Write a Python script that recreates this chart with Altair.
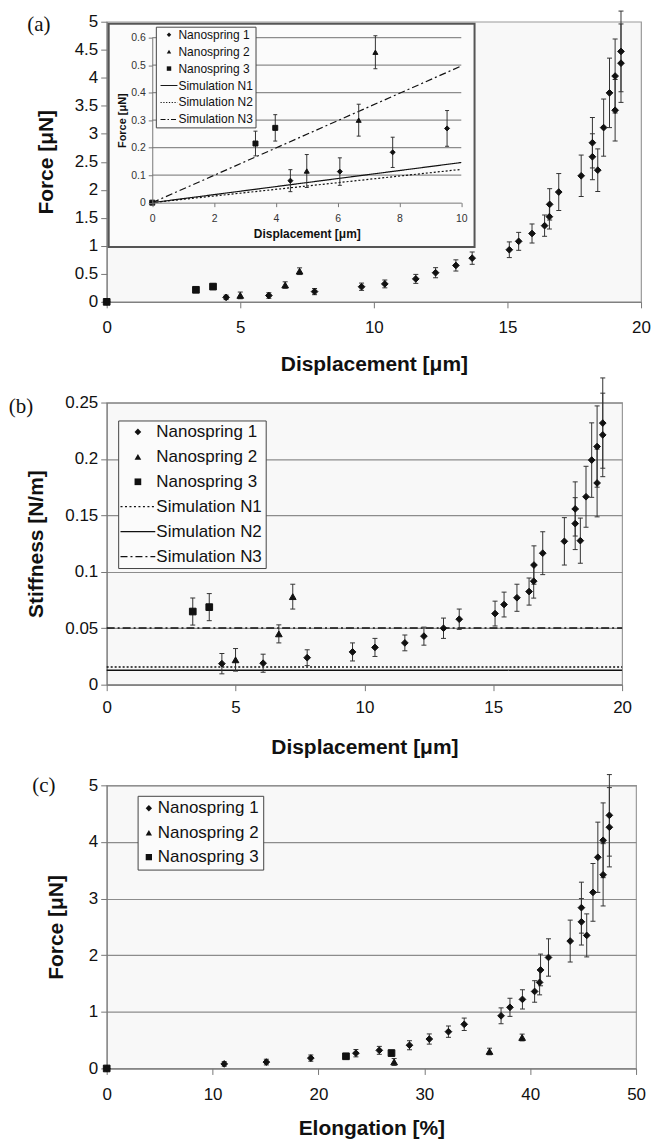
import altair as alt
import pandas as pd

FONT = "Liberation Sans"
SERIF = "Liberation Serif"
INK = "#111111"
BAR = "#333333"
GRID = "#8c8c8c"
AXC = "#777777"

SERIES = ["Nanospring 1", "Nanospring 2", "Nanospring 3"]
SIMS = ["Simulation N1", "Simulation N2", "Simulation N3"]

# ---------------- data: force (panels a and c) ----------------
n1_disp = [0, 4.47, 6.07, 7.78, 9.54, 10.41, 11.57, 12.31, 13.07, 13.68, 15.07, 15.42, 15.92, 16.39,
           16.57, 16.58, 16.92, 17.76, 18.18, 18.18, 18.38, 18.6, 18.82, 19.03, 19.03, 19.25, 19.25]
n1_elong = [0, 11.1, 15.08, 19.28, 23.54, 25.75, 28.6, 30.47, 32.28, 33.77, 37.25, 38.09, 39.27, 40.42,
            40.89, 40.98, 41.73, 43.78, 44.84, 44.84, 45.34, 45.93, 46.39, 46.89, 46.89, 47.48, 47.48]
n1_force = [0, 0.08, 0.113, 0.183, 0.27, 0.32, 0.41, 0.52, 0.65, 0.78, 0.93, 1.08, 1.22, 1.36,
            1.52, 1.74, 1.96, 2.25, 2.59, 2.84, 2.35, 3.11, 3.73, 3.42, 4.03, 4.26, 4.47]
n1_force_err = [0, 0.04, 0.05, 0.055, 0.065, 0.07, 0.08, 0.09, 0.1, 0.11, 0.14, 0.16, 0.17, 0.19,
                0.22, 0.28, 0.33, 0.37, 0.41, 0.45, 0.38, 0.51, 0.62, 0.55, 0.66, 0.7, 0.72]

n2_disp = [5.0, 6.68, 7.22]
n2_elong = [27.15, 36.16, 39.24]
n2_force = [0.115, 0.30, 0.547]
n2_force_err = [0.06, 0.058, 0.06]

n3_disp = [0, 3.34, 3.98]
n3_elong = [0, 22.6, 26.9]
n3_force = [0, 0.215, 0.272]
n3_force_err = [0, 0.045, 0.048]

# simulations in the inset of panel (a)
sim_a_x = [0, 10]
sim_a_n1 = [0, 0.146]
sim_a_n2 = [0, 0.121]
sim_a_n3 = [0, 0.497]

# ---------------- data: stiffness (panel b) ----------------
n1_stiff_disp = n1_disp[1:]
n1_stiff = [0.0186, 0.019, 0.0239, 0.029, 0.033, 0.037, 0.043, 0.050, 0.058, 0.063, 0.071, 0.077, 0.0825,
            0.0917, 0.106, 0.1165, 0.127, 0.1427, 0.1557, 0.1276, 0.1665, 0.199, 0.1787, 0.211, 0.2213, 0.2318]
n1_stiff_err = [0.009, 0.008, 0.007, 0.008, 0.008, 0.007, 0.008, 0.009, 0.009, 0.011, 0.011, 0.012, 0.012,
                0.015, 0.017, 0.019, 0.021, 0.023, 0.024, 0.02, 0.027, 0.033, 0.03, 0.036, 0.037, 0.04]
n2_stiff = [0.022, 0.045, 0.078]
n2_stiff_err = [0.01, 0.008, 0.011]
n3_stiff_disp = [3.34, 3.98]
n3_stiff = [0.0648, 0.0687]
n3_stiff_err = [0.012, 0.012]

sim_b_x = [0, 20]
sim_b_n1 = 0.0157
sim_b_n2 = 0.0127
sim_b_n3 = 0.0503

# tick values
a_xticks = [0, 5, 10, 15, 20]
a_yticks = [0, 0.5, 1, 1.5, 2, 2.5, 3, 3.5, 4, 4.5, 5]
inset_xticks = [0, 2, 4, 6, 8, 10]
inset_yticks = [0, 0.1, 0.2, 0.3, 0.4, 0.5, 0.6]
b_yticks = [0, 0.05, 0.1, 0.15, 0.2, 0.25]
c_xticks = [0, 10, 20, 30, 40, 50]
c_yticks = [0, 1, 2, 3, 4, 5]


def points_frame(xs_list, ys_list, es_list):
    rows = []
    for name, xs, ys, es in zip(SERIES, xs_list, ys_list, es_list):
        for x, y, e in zip(xs, ys, es):
            rows.append({"series": name, "x": x, "y": y, "lo": y - e, "hi": y + e})
    return pd.DataFrame(rows)


def lines_frame(xs, ys_list):
    rows = []
    for name, ys in zip(SIMS, ys_list):
        for x, y in zip(xs, ys):
            rows.append({"series": name, "x": x, "y": y})
    return pd.DataFrame(rows)


def dash_path(half, r, pattern, thick=1.2):
    """Legend glyph: a horizontal (optionally dashed) line built from thin filled rectangles."""
    t = thick / 2 / r

    def seg(a, b):
        return f"M{a:.2f},{-t:.2f}H{b:.2f}V{t:.2f}H{a:.2f}Z"

    if not pattern:
        return seg(-half, half)
    segs, x, i, on = [], -half, 0, True
    while x < half - 1e-6:
        step = pattern[i % len(pattern)] / r
        if on:
            segs.append(seg(x, min(x + step, half)))
        x += step
        on = not on
        i += 1
    return "".join(segs)


def make_legend(lx, ly, size, pad, sym_off, lab_off, fs, row_pad):
    return alt.Legend(title=None, orient="none", legendX=lx, legendY=ly, symbolSize=size, padding=pad,
                      symbolOffset=sym_off, labelOffset=lab_off, labelFontSize=fs, labelFont=FONT,
                      labelColor=INK, rowPadding=row_pad, strokeColor="#444444", fillColor="#fbfbfb",
                      symbolStrokeColor=INK, symbolFillColor=INK, symbolStrokeWidth=0, labelLimit=400)


def x_axis(values, title, lp, tp, fs=17, tfs=21, **kw):
    return alt.Axis(values=values, title=title, grid=False, tickSize=kw.pop("tickSize", 6), labelPadding=lp,
                    titlePadding=tp, labelFontSize=fs, titleFontSize=tfs, titleFontWeight="bold",
                    labelFont=FONT, titleFont=FONT, domainColor=AXC, tickColor=AXC, labelColor=INK,
                    titleColor=INK, labelFlush=False, labelOverlap=False, **kw)


def y_axis(values, title, fmt, tp, grid=False, fs=17, tfs=21, **kw):
    return alt.Axis(values=values, title=title, format=fmt, grid=grid, gridColor=GRID, gridWidth=1.2,
                    tickSize=kw.pop("tickSize", 6), labelPadding=kw.pop("labelPadding", 3), titlePadding=tp,
                    labelFontSize=fs, titleFontSize=tfs, titleFontWeight="bold", labelFont=FONT,
                    titleFont=FONT, domainColor=AXC, tickColor=AXC, labelColor=INK, titleColor=INK,
                    labelOverlap=False, **kw)


def data_layers(df, xs, ys, shape_scale, legend, size, cap):
    X = alt.X("x:Q", scale=xs[0], axis=xs[1])
    base = alt.Chart(df)
    bars = base.mark_rule(color=BAR, strokeWidth=1).encode(
        x=X, y=alt.Y("lo:Q", scale=ys[0], axis=ys[1]), y2="hi:Q")
    caps = base.transform_fold(["lo", "hi"], as_=["end", "v"]).mark_tick(
        orient="horizontal", size=cap, thickness=1, color=BAR, opacity=1).encode(
        x=X, y=alt.Y("v:Q", scale=ys[0], axis=ys[1]))
    pts = base.mark_point(filled=True, fill=INK, stroke=INK, strokeWidth=1, size=size, opacity=1).encode(
        x=X, y=alt.Y("y:Q", scale=ys[0], axis=ys[1]),
        shape=alt.Shape("series:N", scale=shape_scale, legend=legend))
    return [bars, caps, pts]


def sim_layer(df, xs, ys, dashes, width=1.2):
    return alt.Chart(df).mark_line(color=INK, strokeWidth=width).encode(
        x=alt.X("x:Q", scale=xs[0], axis=xs[1]),
        y=alt.Y("y:Q", scale=ys[0], axis=ys[1]),
        strokeDash=alt.StrokeDash("series:N", scale=alt.Scale(domain=SIMS, range=dashes), legend=None))


def panel_label(text, px, py):
    return alt.Chart(pd.DataFrame({"t": [text]})).mark_text(
        font=SERIF, fontSize=21, color=INK, align="center", baseline="middle").encode(
        text="t:N", x=alt.value(px), y=alt.value(py))


SHAPES = ["diamond", "triangle-up", "square"]

# ================= panel (a) =================
df_a = points_frame([n1_disp, n2_disp, n3_disp], [n1_force, n2_force, n3_force],
                    [n1_force_err, n2_force_err, n3_force_err])
sim_a = lines_frame(sim_a_x, [sim_a_n1, sim_a_n2, sim_a_n3])

r_a = (20 ** 0.5) / 2
shape_a = alt.Scale(domain=SERIES + SIMS, range=SHAPES + [
    dash_path(3.8, r_a, [], 1.0), dash_path(3.8, r_a, [1.2, 1.6], 1.0),
    dash_path(3.8, r_a, [5, 2, 1.5, 2], 1.0)])
legend_a = make_legend(49.3, 5, 20, 2, 5.2, 3.5, 12, 5)

xs_a = (alt.Scale(domain=[0, 20]), x_axis(a_xticks, "Displacement [μm]", 11.7, 17.7))
ys_a = (alt.Scale(domain=[0, 5]), y_axis(a_yticks, "Force [μN]", ".1~f", 17.5))
main_a = alt.layer(*data_layers(df_a, xs_a, ys_a, shape_a, legend_a, 45, 5),
                   panel_label("(a)", -68, 3))

xs_i = (alt.Scale(domain=[0, 10], range=[45.7, 355.7]),
        alt.Axis(orient="bottom", offset=-99.5, values=inset_xticks, title="Displacement [μm]", grid=False,
                 tickSize=4, labelPadding=6.5, titlePadding=4.5, labelFontSize=10.5, titleFontSize=12,
                 titleFontWeight="bold", labelFont=FONT, titleFont=FONT, domainColor=AXC, tickColor=AXC,
                 labelColor="#333333", titleColor=INK, labelFlush=False, labelOverlap=False, zindex=2))
ys_i = (alt.Scale(domain=[0, 0.6], range=[181.5, 16]),
        alt.Axis(orient="left", offset=-45.7, values=inset_yticks, title="Force [μN]", format=".1~f",
                 grid=False, tickSize=4, labelPadding=3, titlePadding=3.2, labelFontSize=10.5,
                 titleFontSize=11, titleFontWeight="bold", labelFont=FONT, titleFont=FONT, domainColor=AXC,
                 tickColor=AXC, labelColor="#333333", titleColor=INK, labelOverlap=False, zindex=2))

inset_box = alt.Chart(pd.DataFrame({"k": [0]})).mark_rect(
    fill="#fbfbfb", stroke="#555555", strokeWidth=2).encode(
    x=alt.value(2), x2=alt.value(369), y=alt.value(2), y2=alt.value(226))
inset_grid = alt.Chart(pd.DataFrame({"g": inset_yticks[1:]})).mark_rule(color=GRID, strokeWidth=1.2).encode(
    x=alt.value(45.7), x2=alt.value(355.7),
    y=alt.Y("g:Q", scale=ys_i[0], axis=ys_i[1]))
df_inset = df_a[df_a["x"] <= 10]
inset = alt.layer(inset_box, inset_grid,
                  sim_layer(sim_a, xs_i, ys_i, [[1, 0], [2, 2], [7, 3, 2, 3]]),
                  *data_layers(df_inset, xs_i, ys_i, shape_a, legend_a, 25, 4))

panel_a = alt.layer(main_a, inset).resolve_scale(x="independent", y="independent").properties(
    width=536, height=281)

# ================= panel (b) =================
df_b = points_frame([n1_stiff_disp, n2_disp, n3_stiff_disp], [n1_stiff, n2_stiff, n3_stiff],
                    [n1_stiff_err, n2_stiff_err, n3_stiff_err])
sim_b = lines_frame(sim_b_x, [[sim_b_n1] * 2, [sim_b_n2] * 2, [sim_b_n3] * 2])
r_b = (45 ** 0.5) / 2
shape_b = alt.Scale(domain=SERIES + SIMS, range=SHAPES + [
    dash_path(5.2, r_b, [2, 2.5]), dash_path(5.2, r_b, []), dash_path(5.2, r_b, [7, 3, 2, 3])])
legend_b = make_legend(11.5, 18, 45, 3, 8.3, 10, 17, 7)
xs_b = (alt.Scale(domain=[0, 20]), x_axis(a_xticks, "Displacement [μm]", 9, 21))
ys_b = (alt.Scale(domain=[0, 0.25]), y_axis(b_yticks, "Stiffness [N/m]", ".2~f", 18, grid=True))
panel_b = alt.layer(sim_layer(sim_b, xs_b, ys_b, [[2, 2], [1, 0], [8, 3, 2, 3]], 1.5),
                    *data_layers(df_b, xs_b, ys_b, shape_b, legend_b, 45, 5),
                    panel_label("(b)", -86, 4)).properties(width=517, height=283)

# ================= panel (c) =================
df_c = points_frame([n1_elong, n2_elong, n3_elong], [n1_force, n2_force, n3_force],
                    [n1_force_err, n2_force_err, n3_force_err])
shape_c = alt.Scale(domain=SERIES, range=SHAPES)
legend_c = make_legend(31, 10.5, 40, 4, -1.2, 0.5, 17, 6.5)
xs_c = (alt.Scale(domain=[0, 50]), x_axis(c_xticks, "Elongation [%]", 12, 15))
ys_c = (alt.Scale(domain=[0, 5]), y_axis(c_yticks, "Force [μN]", "d", 21.6, grid=True))
panel_c = alt.layer(*data_layers(df_c, xs_c, ys_c, shape_c, legend_c, 45, 5),
                    panel_label("(c)", -63, 1)).properties(width=531, height=284)

chart = alt.vconcat(panel_a, panel_b, panel_c, spacing=101, bounds="flush").resolve_scale(
    shape="independent", strokeDash="independent").resolve_legend(shape="independent").properties(
    padding=0).configure(font=FONT).configure_view(fill="#f8f8f8", stroke="#9a9a9a", strokeWidth=1.2)

chart.save("out.html", embed_options={"renderer": "svg", "actions": False})
